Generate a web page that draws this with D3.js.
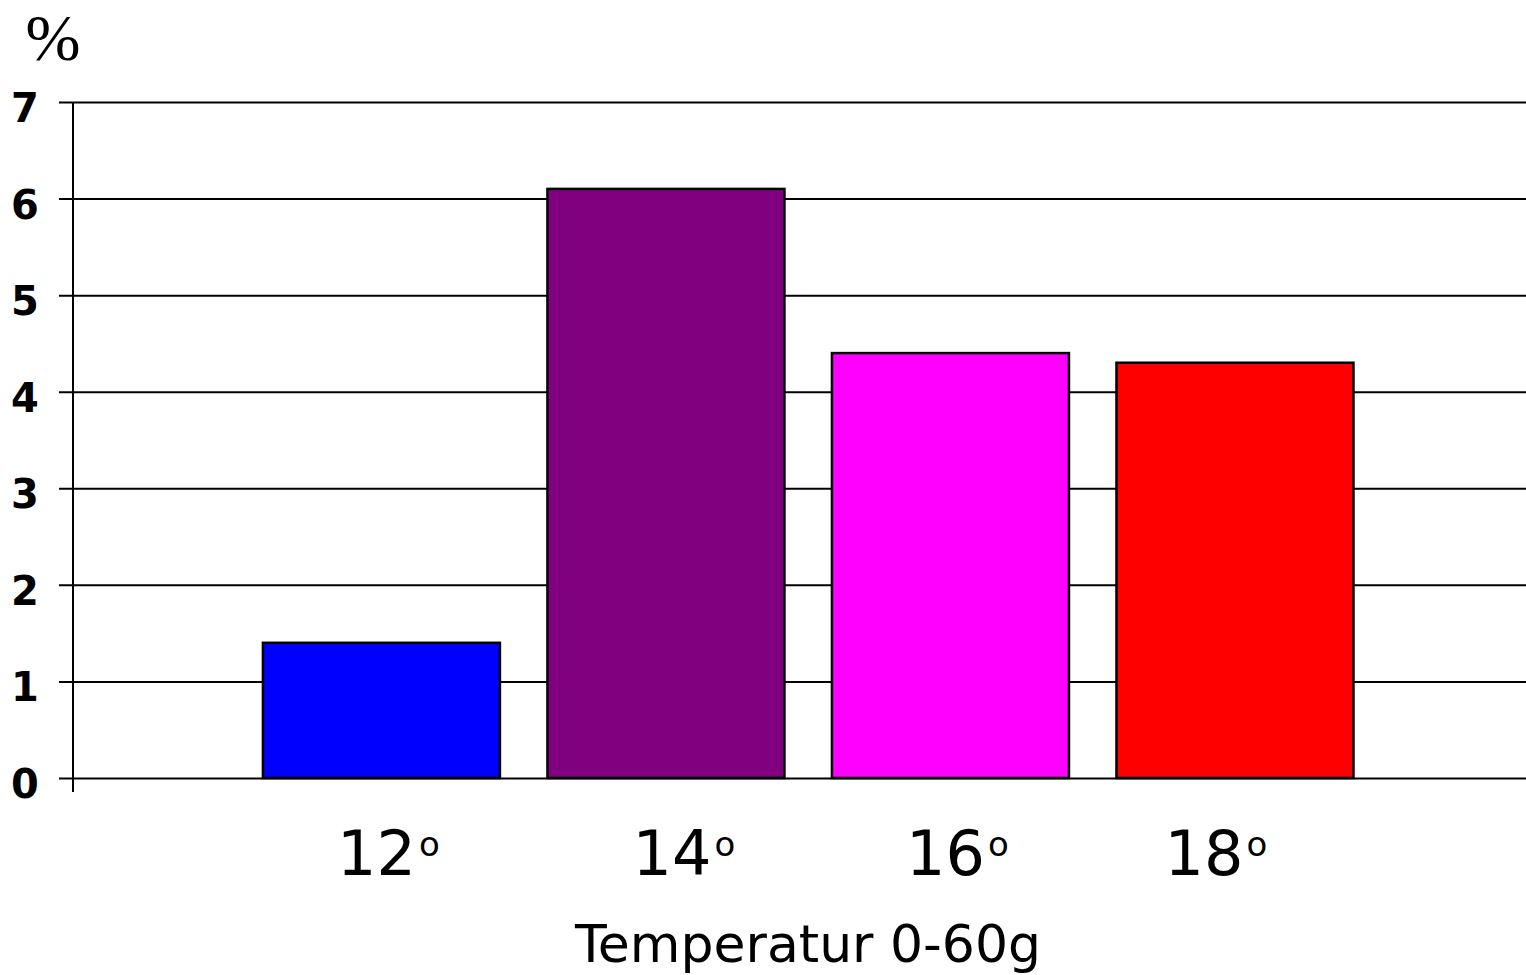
<!DOCTYPE html>
<html>
<head>
<meta charset="utf-8">
<script src="https://cdn.jsdelivr.net/npm/d3@7"></script>
<style>
  html, body { margin: 0; padding: 0; background: #fff; }
  svg { display: block; }
</style>
</head>
<body>
<svg id="chart" width="1526" height="975"></svg>
<script>
// Temperature categories and their percentages
const categories = ["12", "14", "16", "18"];
const values = [1.4, 6.1, 4.4, 4.3];
const barColors = ["#0000ff", "#800080", "#ff00ff", "#ff0000"];
const yTicks = [0, 1, 2, 3, 4, 5, 6, 7];
const yUnit = "%";
const xTitle = "Temperatur 0-60g";

// Small horizontal nudges for the category labels
const labelNudge = [7, 18, 7, -19];

const svg = d3.select("#chart");
const W = 1526;
const plotLeft = 73, plotTop = 102, plotBottom = 778;

const x = d3.scaleBand()
  .domain(categories)
  .range([plotLeft, W])
  .paddingInner(0.167)
  .paddingOuter(0.637)
  .align(0.524);

const y = d3.scaleLinear().domain([0, 7]).range([plotBottom, plotTop]);

// Horizontal grid lines with short ticks left of the axis
const yAxis = d3.axisLeft(y)
  .tickValues(yTicks)
  .tickSize(-(W - plotLeft))
  .tickFormat("");
const gy = svg.append("g").attr("transform", `translate(${plotLeft},0)`).call(yAxis);
gy.select(".domain").remove();
gy.selectAll(".tick line")
  .attr("x1", -14)
  .attr("x2", W - plotLeft)
  .attr("stroke", "#000")
  .attr("stroke-width", 2);

// Vertical axis line, extending a little below zero
svg.append("line")
  .attr("x1", plotLeft).attr("x2", plotLeft)
  .attr("y1", y(7)).attr("y2", plotBottom + 14)
  .attr("stroke", "#000").attr("stroke-width", 2);

// Y tick labels
svg.append("g").selectAll("text")
  .data(yTicks)
  .join("text")
  .attr("x", 25)
  .attr("y", d => y(d) + 20)
  .attr("text-anchor", "middle")
  .attr("font-family", "DejaVu Sans, sans-serif")
  .attr("font-weight", "bold")
  .attr("font-size", 40)
  .attr("fill", "#000")
  .text(d => d);

// Unit label
svg.append("text")
  .attr("x", 53).attr("y", 60)
  .attr("text-anchor", "middle")
  .attr("font-family", "Liberation Serif, serif")
  .attr("font-size", 66)
  .text(yUnit);

// Bars
svg.append("g").selectAll("rect")
  .data(values)
  .join("rect")
  .attr("x", (d, i) => x(categories[i]))
  .attr("y", d => y(d))
  .attr("width", x.bandwidth())
  .attr("height", d => y(0) - y(d))
  .attr("fill", (d, i) => barColors[i])
  .attr("stroke", "#000")
  .attr("stroke-width", 2.5);

// Category labels with degree marks
const cl = svg.append("g").selectAll("text")
  .data(categories)
  .join("text")
  .attr("x", (d, i) => x(d) + x.bandwidth() / 2 + labelNudge[i])
  .attr("y", 875)
  .attr("text-anchor", "middle")
  .attr("font-family", "DejaVu Sans, sans-serif")
  .attr("font-size", 62)
  .attr("fill", "#000");
cl.append("tspan").text(d => d);
cl.append("tspan")
  .attr("font-size", 34)
  .attr("dx", 3)
  .attr("dy", -19)
  .text("o");

// X axis title
svg.append("text")
  .attr("x", 808).attr("y", 962)
  .attr("text-anchor", "middle")
  .attr("font-family", "DejaVu Sans, sans-serif")
  .attr("font-size", 52)
  .attr("fill", "#000")
  .text(xTitle);
</script>
</body>
</html>
